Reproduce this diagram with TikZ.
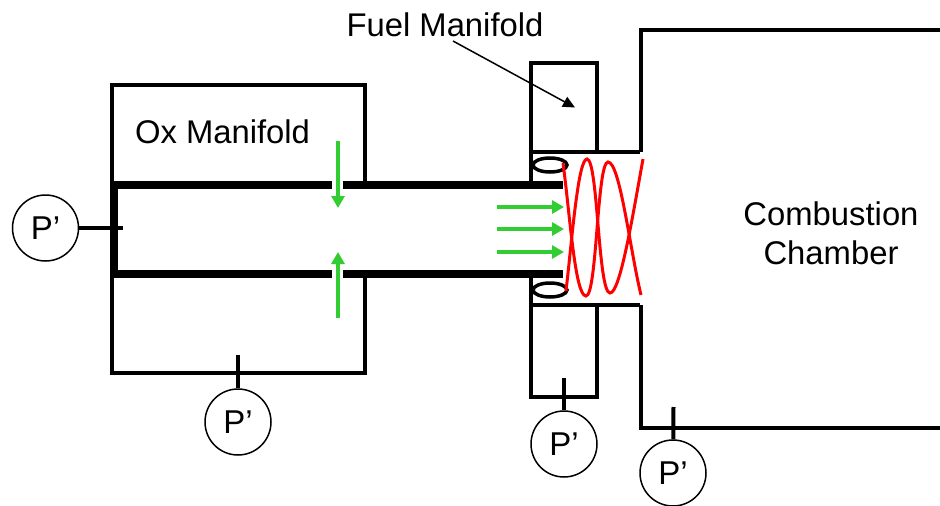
\documentclass[tikz,border=0pt]{standalone}
\usepackage{fontspec}
\setmainfont{Liberation Sans}
\usetikzlibrary{arrows.meta,shapes.geometric}
\definecolor{flowgreen}{RGB}{50,205,50}
\tikzset{
  wall/.style={line width=4pt,line cap=butt,line join=miter},
  tube/.style={line width=8pt},
  probe/.style={circle,draw,line width=1.5pt,minimum size=66pt,inner sep=0pt,font=\fontsize{33}{36}\selectfont},
  stem/.style={line width=4pt},
  label/.style={font=\fontsize{32.8}{38}\selectfont,align=center,inner sep=0pt},
  flow/.style={draw=flowgreen,line width=4pt,-{Triangle[length=12pt,width=13pt]}},
  flame/.style={draw=red,line width=3pt},
  ring/.style={ellipse,draw,line width=3.5pt,minimum width=34pt,minimum height=14pt,inner sep=0pt}
}
\begin{document}
\begin{tikzpicture}[x=1pt,y=-1pt]
\useasboundingbox (0,0) rectangle (940,506);
% ox manifold
\draw[wall] (111.5,185) -- (111.5,85) -- (365,85) -- (365,185);
\draw[wall] (111.5,274) -- (111.5,373) -- (365,373) -- (365,274);
% tube
\draw[tube] (110,185) -- (332,185) (343,185) -- (563,185);
\draw[tube] (110,274) -- (332,274) (343,274) -- (563,274);
\draw[tube] (114,181) -- (114,278);
% fuel manifold
\draw[wall] (530.5,183) -- (530.5,63) -- (597,63) -- (597,152);
\draw[wall] (530.5,152) -- (640,152);
\draw[wall] (530.5,274) -- (530.5,397) -- (597,397) -- (597,305);
\draw[wall] (530.5,305) -- (640,305);
% chamber
\draw[wall] (640.5,152) -- (640.5,30) -- (940,30);
\draw[wall] (640.5,305) -- (640.5,428) -- (940,428);
% rings
\node[ring] (r1) at (550,165) {};
\node[ring] (r2) at (550,290) {};
% flame
\draw[flame] (563,163) .. controls (570,215) and (575,296) .. (586,296)
  .. controls (597,296) and (597,162) .. (608,162)
  .. controls (620,162) and (630,250) .. (641,295);
\draw[flame] (566,291) .. controls (572,240) and (578,159) .. (587,159)
  .. controls (598,159) and (598,293) .. (610,293)
  .. controls (620,293) and (632,220) .. (643,159);
% green arrows
\coordinate (a1) at (338,141); \coordinate (a2) at (338,208);
\coordinate (b1) at (338,318); \coordinate (b2) at (338,252);
\draw[flow] (a1) -- (a2);
\draw[flow] (b1) -- (b2);
\coordinate (c1) at (497,207); \coordinate (c2) at (564,207);
\coordinate (d1) at (497,229); \coordinate (d2) at (564,229);
\coordinate (e1) at (497,252); \coordinate (e2) at (564,252);
\draw[flow] (c1) -- (c2);
\draw[flow] (d1) -- (d2);
\draw[flow] (e1) -- (e2);
% probes
\node[probe] (p1) at (45.5,228) {P’};
\node[probe] (p2) at (238,422) {P’};
\node[probe] (p3) at (564,444) {P’};
\node[probe] (p4) at (673,473) {P’};
\coordinate (q1) at (123,228);
\coordinate (q2) at (238,355);
\coordinate (q3) at (564,378);
\coordinate (q4) at (673.5,407);
\draw[stem] (p1) -- (q1);
\draw[stem] (p2) -- (q2);
\draw[stem] (p3) -- (q3);
\draw[stem] (p4) -- (q4);
% labels
\node[label] (ox) at (222.5,132) {Ox Manifold};
\node[label] (fuel) at (445,25) {Fuel Manifold};
\node[label] (cc) at (831,233) {Combustion\\[1pt]Chamber};
\coordinate (fs) at (453,41);
\coordinate (ft) at (575,107.5);
\draw[line width=1.5pt,-{Triangle[length=12pt,width=11pt]}] (fs) -- (ft);
\end{tikzpicture}
\end{document}
